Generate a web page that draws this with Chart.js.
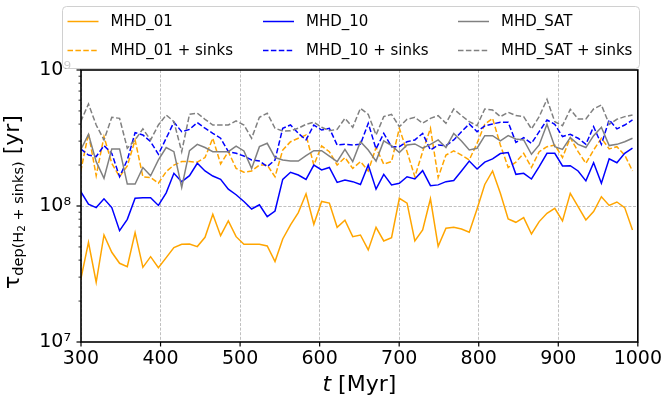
<!DOCTYPE html>
<html>
<head>
<meta charset="utf-8">
<script src="https://cdn.jsdelivr.net/npm/chart.js@4.4.1/dist/chart.umd.min.js"></script>
<style>
  html, body { margin: 0; padding: 0; background: #fff; }
  #wrap { width: 668px; height: 401px; }
</style>
</head>
<body>
<div id="wrap"><canvas id="tdep" width="668" height="401"></canvas></div>
<script>
// snapshot times [Myr]
const times = [
  299.6, 309.4, 319.1, 328.9, 338.7, 348.5, 358.2, 368.0, 377.8, 387.5,
  397.3, 407.1, 416.8, 426.6, 436.4, 446.2, 455.9, 465.7, 475.5, 485.2,
  495.0, 504.8, 514.5, 524.3, 534.1, 543.9, 553.6, 563.4, 573.2, 582.9,
  592.7, 602.5, 612.2, 622.0, 631.8, 641.6, 651.3, 661.1, 670.9, 680.6,
  690.4, 700.2, 709.9, 719.7, 729.5, 739.3, 749.0, 758.8, 768.6, 778.3,
  788.1, 797.9, 807.6, 817.4, 827.2, 837.0, 846.7, 856.5, 866.3, 876.0,
  885.8, 895.6, 905.3, 915.1, 924.9, 934.7, 944.4, 954.2, 964.0, 973.7,
  983.5, 993.3
];

// depletion times [yr]
const mhd01 = [
  2.86e7, 5.41e7, 2.75e7, 6.12e7, 4.57e7, 3.79e7, 3.58e7, 6.37e7, 3.54e7, 4.24e7, 3.52e7, 4.17e7,
  4.94e7, 5.23e7, 5.26e7, 5.03e7, 5.89e7, 8.69e7, 6.05e7, 7.76e7, 5.95e7, 5.23e7, 5.23e7, 5.23e7,
  5.08e7, 3.90e7, 5.72e7, 7.26e7, 8.94e7, 1.23e8, 7.34e7, 1.08e8, 1.05e8, 6.97e7, 7.85e7, 5.95e7,
  6.12e7, 4.75e7, 6.97e7, 5.53e7, 5.85e7, 1.14e8, 1.05e8, 5.53e7, 6.66e7, 1.13e8, 5.05e7, 6.86e7,
  6.97e7, 6.78e7, 6.41e7, 9.51e7, 1.44e8, 1.81e8, 1.24e8, 8.03e7, 7.59e7, 8.21e7, 6.23e7, 7.68e7,
  8.84e7, 9.62e7, 7.76e7, 1.24e8, 9.90e7, 7.90e7, 9.09e7, 1.17e8, 1.01e8, 1.07e8, 9.73e7, 6.66e7
];
const mhd01Sinks = [
  1.79e8, 3.42e8, 1.67e8, 3.24e8, 2.06e8, 1.64e8, 1.97e8, 3.06e8, 1.64e8, 1.62e8, 1.47e8, 1.79e8,
  2.00e8, 2.12e8, 2.12e8, 2.10e8, 2.27e8, 3.15e8, 2.04e8, 2.51e8, 1.89e8, 1.77e8, 1.81e8, 2.00e8,
  2.00e8, 1.64e8, 2.58e8, 2.97e8, 3.15e8, 3.33e8, 2.00e8, 2.76e8, 2.51e8, 2.00e8, 2.27e8, 1.89e8,
  2.12e8, 1.81e8, 2.69e8, 2.03e8, 2.12e8, 3.73e8, 2.51e8, 1.64e8, 2.51e8, 3.73e8, 1.62e8, 2.37e8,
  2.54e8, 2.37e8, 2.18e8, 2.89e8, 3.99e8, 4.41e8, 2.81e8, 1.92e8, 2.10e8, 2.44e8, 1.92e8, 2.51e8,
  2.73e8, 2.81e8, 2.27e8, 3.18e8, 2.51e8, 2.06e8, 2.58e8, 3.15e8, 2.63e8, 2.73e8, 2.37e8, 1.81e8
];
const mhd10 = [
  1.28e8, 1.03e8, 9.73e7, 1.13e8, 9.73e7, 6.59e7, 7.98e7, 1.14e8, 1.15e8, 1.15e8, 1.01e8, 1.25e8,
  1.74e8, 1.51e8, 1.67e8, 2.06e8, 1.81e8, 1.66e8, 1.57e8, 1.33e8, 1.21e8, 1.08e8, 9.51e7, 1.02e8,
  8.35e7, 9.19e7, 1.57e8, 1.77e8, 1.69e8, 1.57e8, 2.00e8, 1.84e8, 1.92e8, 1.49e8, 1.55e8, 1.51e8,
  1.44e8, 2.00e8, 1.33e8, 1.71e8, 1.43e8, 1.47e8, 1.64e8, 1.58e8, 1.82e8, 1.41e8, 1.43e8, 1.51e8,
  1.54e8, 1.81e8, 2.14e8, 1.87e8, 2.10e8, 2.22e8, 2.43e8, 2.47e8, 1.71e8, 1.74e8, 1.58e8, 1.95e8,
  2.44e8, 2.44e8, 1.97e8, 1.98e8, 1.81e8, 1.53e8, 2.08e8, 1.47e8, 2.22e8, 2.08e8, 2.44e8, 2.66e8
];
const mhd10Sinks = [
  2.63e8, 2.37e8, 2.31e8, 2.78e8, 2.44e8, 1.64e8, 2.18e8, 3.46e8, 3.33e8, 2.97e8, 2.40e8, 3.15e8,
  4.13e8, 3.52e8, 3.66e8, 4.10e8, 3.73e8, 3.42e8, 3.15e8, 2.51e8, 2.44e8, 2.33e8, 2.18e8, 2.14e8,
  1.95e8, 2.18e8, 3.73e8, 3.94e8, 3.42e8, 3.06e8, 3.94e8, 3.62e8, 3.73e8, 2.81e8, 2.84e8, 2.81e8,
  2.84e8, 4.06e8, 2.63e8, 3.42e8, 2.73e8, 2.73e8, 2.97e8, 3.06e8, 3.42e8, 2.58e8, 2.81e8, 2.78e8,
  3.06e8, 3.52e8, 4.01e8, 3.52e8, 3.88e8, 4.01e8, 4.13e8, 4.13e8, 2.94e8, 3.18e8, 2.89e8, 3.52e8,
  4.29e8, 3.99e8, 3.24e8, 3.37e8, 3.15e8, 2.84e8, 3.83e8, 2.84e8, 4.29e8, 3.69e8, 3.94e8, 4.29e8
];
const mhdSat = [
  2.58e8, 3.37e8, 2.12e8, 1.60e8, 2.63e8, 2.63e8, 1.45e8, 1.45e8, 1.92e8, 1.67e8, 2.18e8, 2.69e8,
  2.51e8, 1.37e8, 2.55e8, 2.84e8, 2.69e8, 2.51e8, 2.51e8, 2.51e8, 2.76e8, 2.54e8, 1.89e8, 2.73e8,
  2.89e8, 2.27e8, 2.18e8, 2.14e8, 2.14e8, 2.35e8, 2.55e8, 2.55e8, 2.33e8, 2.12e8, 2.61e8, 2.12e8,
  2.97e8, 2.58e8, 2.14e8, 3.01e8, 2.78e8, 2.47e8, 2.81e8, 2.86e8, 2.66e8, 2.84e8, 3.06e8, 2.69e8,
  3.42e8, 3.01e8, 2.58e8, 2.66e8, 3.29e8, 3.29e8, 3.01e8, 3.29e8, 3.11e8, 3.06e8, 2.40e8, 2.81e8,
  3.99e8, 2.73e8, 2.61e8, 3.18e8, 2.84e8, 2.69e8, 3.29e8, 3.79e8, 2.78e8, 2.84e8, 2.97e8, 3.15e8
];
const mhdSatSinks = [
  4.17e8, 5.63e8, 3.94e8, 3.06e8, 4.49e8, 4.41e8, 2.66e8, 3.06e8, 3.69e8, 3.06e8, 3.94e8, 4.67e8,
  4.17e8, 2.51e8, 4.72e8, 4.81e8, 4.34e8, 3.94e8, 3.94e8, 3.94e8, 4.22e8, 3.94e8, 3.15e8, 4.49e8,
  4.81e8, 3.73e8, 3.56e8, 3.58e8, 3.73e8, 3.99e8, 4.13e8, 3.79e8, 3.58e8, 3.66e8, 4.41e8, 3.79e8,
  5.23e8, 4.72e8, 3.33e8, 4.54e8, 4.72e8, 3.83e8, 4.34e8, 4.49e8, 4.06e8, 4.41e8, 4.62e8, 4.06e8,
  5.17e8, 4.62e8, 4.17e8, 3.90e8, 5.17e8, 5.08e8, 4.54e8, 4.89e8, 4.62e8, 4.54e8, 3.69e8, 4.54e8,
  6.09e8, 4.17e8, 3.90e8, 5.14e8, 4.37e8, 4.37e8, 5.17e8, 5.53e8, 3.99e8, 4.34e8, 4.54e8, 4.67e8
];

const labels = ['MHD_01', 'MHD_01 + sinks', 'MHD_10', 'MHD_10 + sinks', 'MHD_SAT', 'MHD_SAT + sinks'];
const xTicks = [300, 400, 500, 600, 700, 800, 900, 1000];
const yTickValues = [1e7, 2e7, 3e7, 4e7, 5e7, 6e7, 7e7, 8e7, 9e7,
                     1e8, 2e8, 3e8, 4e8, 5e8, 6e8, 7e8, 8e8, 9e8, 1e9];
const yMajor = [1e7, 1e8, 1e9];
const yMajorLabels = ['10\u2077', '10\u2078', '10\u2079'];

const FONT = "'DejaVu Sans', sans-serif";
Chart.defaults.font.family = FONT;
Chart.defaults.color = '#000';

function pts(vals) { return vals.map((v, i) => ({ x: times[i], y: v })); }

const series = [mhd01, mhd01Sinks, mhd10, mhd10Sinks, mhdSat, mhdSatSinks];
const colors = ['#ffa500', '#ffa500', '#0000ff', '#0000ff', '#808080', '#808080'];
const DASH = [5.5, 2.4];

const datasets = series.map((s, i) => ({
  label: labels[i],
  data: pts(s),
  borderColor: colors[i],
  borderWidth: 1.5,
  borderDash: i % 2 ? DASH : [],
  pointRadius: 0,
  tension: 0,
  fill: false,
  order: series.length - i   // later series sit on top, like matplotlib
}));

// frame, tick marks, legend and axis titles
const decorations = {
  id: 'decorations',
  afterDraw(chart) {
    const { ctx, chartArea: a, scales: { x, y } } = chart;
    ctx.save();
    ctx.strokeStyle = '#000';
    ctx.setLineDash([]);
    x.ticks.forEach(t => {
      const px = x.getPixelForValue(t.value);
      ctx.lineWidth = 1.2;
      ctx.beginPath(); ctx.moveTo(px, a.bottom); ctx.lineTo(px, a.bottom + 4.5); ctx.stroke();
    });
    y.ticks.forEach(t => {
      const py = y.getPixelForValue(t.value);
      const major = yMajor.includes(t.value);
      ctx.lineWidth = major ? 1.2 : 0.8;
      ctx.beginPath(); ctx.moveTo(a.left, py); ctx.lineTo(a.left - (major ? 4.5 : 2.5), py); ctx.stroke();
    });
    ctx.lineWidth = 1.6;
    ctx.strokeRect(a.left, a.top, a.right - a.left, a.bottom - a.top);

    // legend, 3 columns x 2 rows
    ctx.beginPath();
    ctx.roundRect(62.5, 6.5, 577, 62, 4);
    ctx.fillStyle = 'rgba(255,255,255,0.8)';
    ctx.fill();
    ctx.strokeStyle = '#d0d0d0';
    ctx.lineWidth = 1;
    ctx.stroke();
    const cols = [67.5, 263, 458];
    const rows = [21.5, 50.5];
    ctx.font = '15px ' + FONT;
    ctx.textBaseline = 'middle';
    ctx.textAlign = 'left';
    chart.data.datasets.forEach((ds, i) => {
      const cx = cols[Math.floor(i / 2)], cy = rows[i % 2];
      ctx.strokeStyle = ds.borderColor;
      ctx.lineWidth = 1.5;
      ctx.setLineDash(ds.borderDash);
      ctx.beginPath(); ctx.moveTo(cx, cy); ctx.lineTo(cx + 31, cy); ctx.stroke();
      ctx.setLineDash([]);
      ctx.fillStyle = '#000';
      ctx.fillText(ds.label, cx + 43, cy + 1);
    });

    // x title
    ctx.textBaseline = 'alphabetic';
    const tPart = 't', rest = ' [Myr]';
    ctx.font = 'italic 22px ' + FONT;
    const wt = ctx.measureText(tPart).width;
    ctx.font = '22px ' + FONT;
    const wr = ctx.measureText(rest).width;
    const xc = (a.left + a.right) / 2;
    let x0 = xc - (wt + wr) / 2;
    ctx.font = 'italic 22px ' + FONT;
    ctx.fillText(tPart, x0, 391);
    ctx.font = '22px ' + FONT;
    ctx.fillText(rest, x0 + wt, 391);

    // y title: tau_dep(H2 + sinks) [yr]
    const parts = [
      { s: '\u03c4', size: 22, dy: 0 },
      { s: 'dep(H', size: 14.5, dy: 4 },
      { s: '2', size: 10.5, dy: 6.5 },
      { s: ' + sinks)', size: 14.5, dy: 4 },
      { s: ' [yr]', size: 22, dy: 0 }
    ];
    let total = 0;
    parts.forEach(p => { ctx.font = p.size + 'px ' + FONT; p.w = ctx.measureText(p.s).width; total += p.w; });
    ctx.translate(18.5, 202);
    ctx.rotate(-Math.PI / 2);
    let lx = -total / 2;
    parts.forEach(p => {
      ctx.font = p.size + 'px ' + FONT;
      ctx.fillText(p.s, lx, p.dy);
      lx += p.w;
    });
    ctx.restore();
  }
};

new Chart(document.getElementById('tdep').getContext('2d'), {
  type: 'line',
  data: { datasets },
  options: {
    responsive: false,
    animation: false,
    devicePixelRatio: 1,
    layout: { padding: { top: 70, right: 28, left: 0, bottom: 0 } },
    plugins: { legend: { display: false }, tooltip: { enabled: false } },
    scales: {
      x: {
        type: 'linear',
        min: 300,
        max: 1000,
        afterBuildTicks: s => { s.ticks = xTicks.map(v => ({ value: v })); },
        afterFit: s => { s.height = 59; },
        ticks: {
          padding: 6,
          font: { size: 19 },
          color: '#000',
          maxRotation: 0,
          autoSkip: false,
          callback: v => String(v)
        },
        grid: { color: '#b0b0b0', lineWidth: 0.8, drawTicks: false },
        border: { display: false, dash: [3, 1.6] }
      },
      y: {
        type: 'logarithmic',
        min: 1e7,
        max: 1e9,
        afterBuildTicks: s => { s.ticks = yTickValues.map(v => ({ value: v, major: yMajor.includes(v) })); },
        afterFit: s => { s.width = 81; },
        ticks: {
          padding: 10,
          font: { size: 19 },
          color: '#000',
          autoSkip: false,
          callback: v => {
            const k = yMajor.indexOf(v);
            return k >= 0 ? yMajorLabels[k] : '';
          }
        },
        grid: {
          color: c => (c.tick && c.tick.value === 1e8) ? '#b0b0b0' : 'rgba(0,0,0,0)',
          lineWidth: 0.8,
          drawTicks: false
        },
        border: { display: false, dash: [3, 1.6] }
      }
    }
  },
  plugins: [decorations]
});
</script>
</body>
</html>
